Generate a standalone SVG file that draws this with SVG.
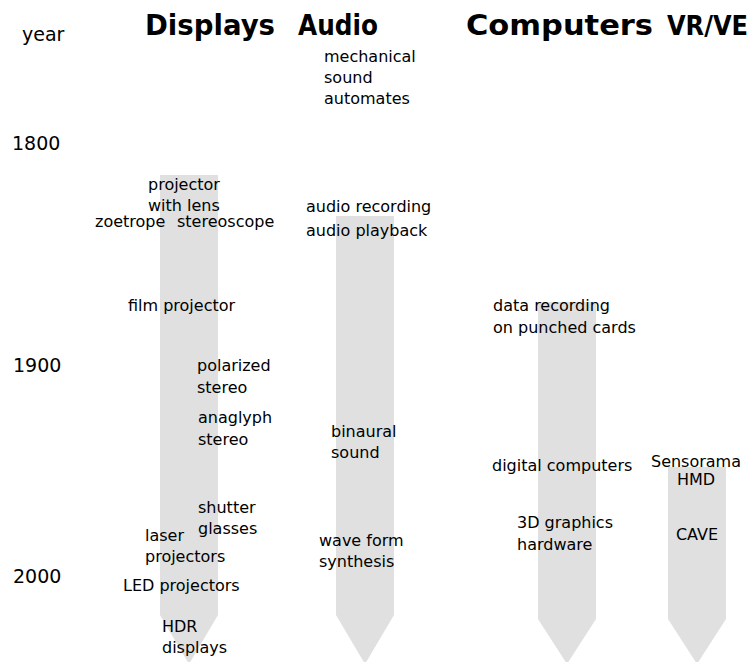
<svg xmlns="http://www.w3.org/2000/svg" width="756" height="662" viewBox="0 0 756 662">
<style>
.bar{fill:#e0e0e0;stroke:none}
text{font-family:"DejaVu Sans",Verdana,sans-serif;fill:#000}
.h{font-size:28px;font-weight:bold}
.y{font-size:19px}
.t{font-size:16px}
.m{text-anchor:middle}
</style>
<rect width="756" height="662" fill="#fff"/>
<g id="connectors">
<path class="bar" d="M160,175 H218 V615 L189,664 L160,615 Z"/>
<path class="bar" d="M336,216 H394 V615 L365,664 L336,615 Z"/>
<path class="bar" d="M538,302 H596 V619 L567,664 L538,619 Z"/>
<path class="bar" d="M668,467 H726 V619 L697,664 L668,619 Z"/>
</g>
<g id="header">
<text class="y" x="22" y="41">year</text>
<text class="h" x="145" y="35" textLength="130" lengthAdjust="spacingAndGlyphs">Displays</text>
<text class="h" x="298" y="35" textLength="80" lengthAdjust="spacingAndGlyphs">Audio</text>
<text class="h" x="466" y="35" textLength="187" lengthAdjust="spacingAndGlyphs">Computers</text>
<text class="h" x="667" y="35" style="font-size:26px" textLength="81" lengthAdjust="spacingAndGlyphs">VR/VE</text>
</g>
<g id="years">
<text class="y" x="12" y="150">1800</text>
<text class="y" x="13" y="372">1900</text>
<text class="y" x="13" y="583">2000</text>
</g>
<g id="displays">
<text class="t" x="148" y="190">projector</text>
<text class="t" x="148" y="211">with lens</text>
<text class="t" x="95" y="227">zoetrope</text>
<text class="t" x="177" y="227">stereoscope</text>
<text class="t" x="128" y="311">film projector</text>
<text class="t" x="197" y="371">polarized</text>
<text class="t" x="197" y="393">stereo</text>
<text class="t" x="198" y="423">anaglyph</text>
<text class="t" x="198" y="445">stereo</text>
<text class="t" x="198" y="513">shutter</text>
<text class="t" x="198" y="534">glasses</text>
<text class="t" x="145" y="541">laser</text>
<text class="t" x="145" y="562">projectors</text>
<text class="t" x="123" y="591">LED projectors</text>
<text class="t" x="162" y="632">HDR</text>
<text class="t" x="162" y="653">displays</text>
</g>
<g id="audio">
<text class="t" x="324" y="62">mechanical</text>
<text class="t" x="324" y="83">sound</text>
<text class="t" x="324" y="104">automates</text>
<text class="t" x="306" y="212">audio recording</text>
<text class="t" x="306" y="236">audio playback</text>
<text class="t" x="331" y="437">binaural</text>
<text class="t" x="331" y="458">sound</text>
<text class="t" x="319" y="546">wave form</text>
<text class="t" x="319" y="567">synthesis</text>
</g>
<g id="computers">
<text class="t" x="493" y="311">data recording</text>
<text class="t" x="493" y="333">on punched cards</text>
<text class="t" x="492" y="471">digital computers</text>
<text class="t" x="517" y="528">3D graphics</text>
<text class="t" x="517" y="550">hardware</text>
</g>
<g id="vrve">
<text class="t m" x="696" y="467">Sensorama</text>
<text class="t m" x="696" y="485">HMD</text>
<text class="t m" x="697" y="540">CAVE</text>
</g>
</svg>
